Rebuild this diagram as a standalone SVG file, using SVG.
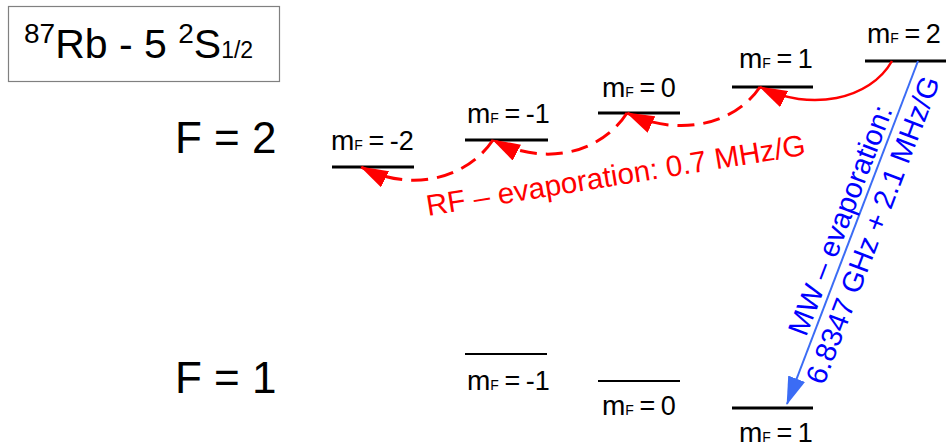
<svg xmlns="http://www.w3.org/2000/svg" width="946" height="448" viewBox="0 0 946 448">
<style>
text{font-family:"Liberation Sans",Arial,sans-serif;fill:#000}
.lv{stroke:#000;stroke-width:3}
.lv2{stroke:#000;stroke-width:2}
.m{font-size:27px;word-spacing:-2px}
.mm{font-size:28px}
.sub{font-size:14px}
.big{font-size:44px}
.rf{fill:none;stroke:#f00;stroke-width:3;stroke-dasharray:17 9;marker-end:url(#ar)}
.rfs{fill:none;stroke:#f00;stroke-width:2.5;marker-end:url(#ar)}
.rft{font-size:29.5px;fill:#f00}
.mwt{font-size:29px;fill:#00f}
</style>
<defs>
<marker id="ar" markerUnits="userSpaceOnUse" markerWidth="28" markerHeight="18" viewBox="0 0 28 18" refX="27" refY="9" orient="auto"><path d="M0,0 L28,9 L0,18 z" fill="#f00"/></marker>
<marker id="ab" markerUnits="userSpaceOnUse" markerWidth="28" markerHeight="18" viewBox="0 0 28 18" refX="27" refY="9" orient="auto"><path d="M0,0 L28,9 L0,18 z" fill="#3b6cf5"/></marker>
</defs>
<rect width="946" height="448" fill="#fff"/>
<g id="title">
<rect x="8.5" y="6.5" width="271" height="75" fill="#fff" stroke="#808080" stroke-width="1.2"/>
<text x="24" y="58" style="font-size:41px"><tspan style="font-size:28px" dy="-15">87</tspan><tspan dy="15">Rb - 5 </tspan><tspan style="font-size:28px" dy="-15">2</tspan><tspan dy="15">S</tspan><tspan style="font-size:23px">1/2</tspan></text>
</g>
<g id="F2label"><text class="big" x="175" y="153">F = 2</text></g>
<g id="F1label"><text class="big" x="175" y="393">F = 1</text></g>
<g id="F2m-2"><line class="lv" x1="332" y1="167" x2="414" y2="167"/><text class="m" x="331" y="150"><tspan class="mm">m</tspan><tspan class="sub">F</tspan> = -2</text></g>
<g id="F2m-1"><line class="lv" x1="465" y1="140" x2="548" y2="140"/><text class="m" x="467" y="123"><tspan class="mm">m</tspan><tspan class="sub">F</tspan> = -1</text></g>
<g id="F2m0"><line class="lv" x1="598" y1="113" x2="680" y2="113"/><text class="m" x="602" y="97"><tspan class="mm">m</tspan><tspan class="sub">F</tspan> = 0</text></g>
<g id="F2m1"><line class="lv" x1="732" y1="87" x2="813" y2="87"/><text class="m" x="739" y="68"><tspan class="mm">m</tspan><tspan class="sub">F</tspan> = 1</text></g>
<g id="F2m2"><line class="lv" x1="865" y1="61" x2="946" y2="61"/><text class="m" x="867" y="43"><tspan class="mm">m</tspan><tspan class="sub">F</tspan> = 2</text></g>
<g id="F1m-1"><line class="lv2" x1="465" y1="354" x2="547" y2="354"/><text class="m" x="467" y="390"><tspan class="mm">m</tspan><tspan class="sub">F</tspan> = -1</text></g>
<g id="F1m0"><line class="lv2" x1="598" y1="381" x2="680" y2="381"/><text class="m" x="602" y="415"><tspan class="mm">m</tspan><tspan class="sub">F</tspan> = 0</text></g>
<g id="F1m1"><line class="lv" x1="732" y1="408" x2="813" y2="408"/><text class="m" x="739" y="442"><tspan class="mm">m</tspan><tspan class="sub">F</tspan> = 1</text></g>
<g id="connectors">
<path class="rfs" d="M892,61 C870,100 810,112 760,87"/>
<path class="rf" d="M760,87 C735,124 680,138 627,113"/>
<path class="rf" d="M627,113 C602,152 546,168 493,140"/>
<path class="rf" d="M493,140 C468,177 414,194 361,167"/>
<line x1="918" y1="61" x2="787" y2="404" stroke="#3b6cf5" stroke-width="2" marker-end="url(#ab)"/>
<text class="rft" x="428" y="216" transform="rotate(-9.2 428 216)">RF – evaporation: 0.7 MHz/G</text>
<g transform="translate(787,404) rotate(-69.1)">
<text class="mwt" x="69" y="-6">MW – evaporation:</text>
<text class="mwt" x="30" y="28">6.8347 GHz + 2.1 MHz/G</text>
</g>
</g>
</svg>
